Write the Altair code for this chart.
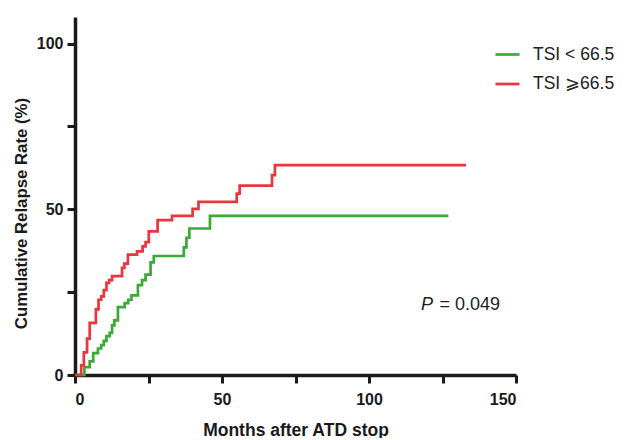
import altair as alt
import pandas as pd

# Step data (months, cumulative relapse %)
green_label = "TSI < 66.5"
red_label = "TSI \u2A7E66.5"

green_time = [0, 3.2, 5.0, 6.2, 7.8, 8.9, 9.8, 10.7, 11.8, 12.6, 13.4, 14.6, 16.9, 18.1,
              19.2, 21.4, 22.8, 24.0, 25.7, 26.8, 37.0, 37.9, 38.9, 45.9, 127.0]
green_rate = [0, 2.4, 4.1, 6.6, 8.0, 9.0, 10.3, 11.7, 12.7, 15.0, 16.5, 20.5, 21.7, 22.7,
              24.0, 27.1, 28.6, 30.3, 34.0, 35.9, 38.5, 41.4, 44.2, 48.0, 48.0]

red_time = [0, 2.1, 3.0, 4.1, 5.0, 7.1, 8.0, 8.9, 9.8, 10.7, 11.6, 12.6, 16.0, 16.8, 18.0,
            21.1, 23.0, 24.0, 25.1, 28.1, 33.0, 40.0, 42.0, 55.0, 56.0, 67.0, 68.0, 133.0]
red_rate = [0, 2.9, 6.8, 11.0, 15.7, 19.8, 22.7, 23.7, 25.6, 27.8, 28.6, 29.8, 32.3, 33.6,
            36.3, 37.3, 38.8, 40.1, 43.3, 46.7, 48.0, 50.1, 52.2, 54.7, 57.1, 60.3, 63.3, 63.3]

x_ticks = [0, 25, 50, 75, 100, 125, 150]
y_ticks = [0, 25, 50, 75, 100]
p_label = "P"
p_value = "= 0.049"

colors = ["#3BA935", "#E8363C"]

df = pd.concat([
    pd.DataFrame({"t": green_time, "rate": green_rate, "group": green_label}),
    pd.DataFrame({"t": red_time, "rate": red_rate, "group": red_label}),
])

FONT = "Liberation Sans"

x = alt.X("t:Q", scale=alt.Scale(domain=[0, 150], nice=False, zero=False),
          axis=alt.Axis(title="Months after ATD stop", values=x_ticks,
                        labelExpr="datum.value % 50 == 0 ? datum.label : ''",
                        grid=False, titlePadding=14, labelPadding=8))
y = alt.Y("rate:Q", scale=alt.Scale(domain=[0, 108], nice=False),
          axis=alt.Axis(title="Cumulative Relapse Rate (%)", values=y_ticks,
                        labelExpr="datum.value % 50 == 0 ? datum.label : ''",
                        grid=False, titlePadding=6, labelPadding=4,
                        titleY=196, titleFontSize=16.8))

lines = alt.Chart(df).mark_line(interpolate="step-after", strokeWidth=2.7).encode(
    x=x, y=y,
    color=alt.Color("group:N",
                    scale=alt.Scale(domain=[green_label, red_label], range=colors),
                    legend=alt.Legend(title=None, orient="none", legendX=419, legendY=24,
                                      symbolType="stroke", symbolSize=576,
                                      symbolStrokeWidth=2.7, labelFontSize=17.5,
                                      labelFont=FONT, labelColor="#222222",
                                      labelOffset=12, rowPadding=7.5, padding=0,
                                      labelLimit=200)),
    detail="group:N",
)

p_text = alt.Chart(pd.DataFrame({"s": [p_label]})).mark_text(
    font=FONT, fontSize=18, fontStyle="italic", align="left", baseline="middle",
    color="#222222").encode(text="s:N", x=alt.value(346), y=alt.value(288))
v_text = alt.Chart(pd.DataFrame({"s": [p_value]})).mark_text(
    font=FONT, fontSize=18, align="left", baseline="middle",
    color="#222222").encode(text="s:N", x=alt.value(364.5), y=alt.value(288))

chart = alt.layer(lines, p_text, v_text).properties(
    width=441, height=358,
    autosize=alt.AutoSizeParams(type="none"),
    padding={"left": 67, "top": 9, "right": 100, "bottom": 63},
).configure_view(stroke=None).configure_axis(
    domainColor="#1a1a1a", domainWidth=3.5, tickColor="#1a1a1a", tickWidth=3,
    tickSize=8, labelFont=FONT, labelFontSize=16, labelFontWeight="bold",
    labelColor="#1a1a1a", titleFont=FONT, titleFontSize=17.5, titleFontWeight="bold",
    titleColor="#1a1a1a",
)

chart.save("out.html", embed_options={"renderer": "svg", "actions": False})
